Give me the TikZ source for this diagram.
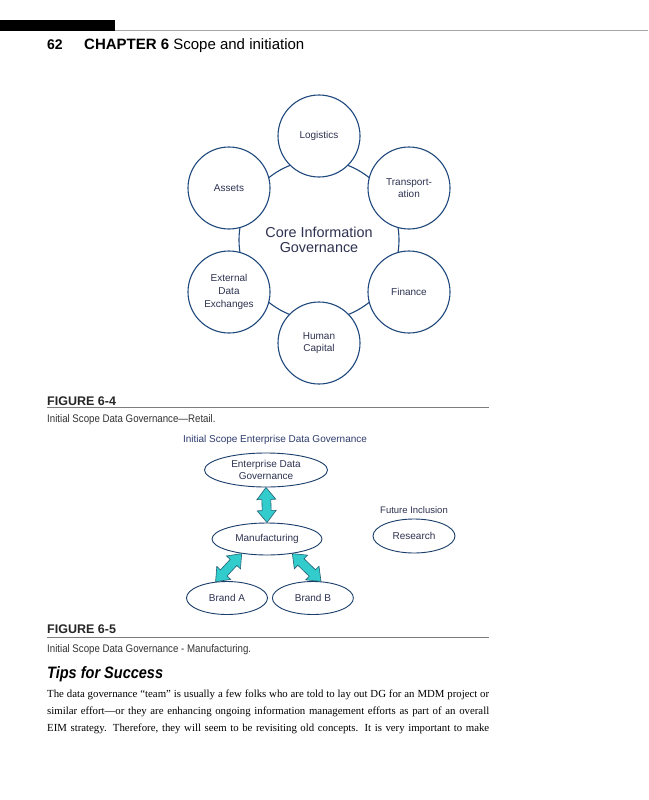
\documentclass[tikz,border=0pt]{standalone}
\usepackage{fontspec}
\setmainfont{Liberation Serif}
\setsansfont{Liberation Sans}
\newfontfamily\condfont[FakeStretch=0.88]{Liberation Sans}
\usepackage{tikz}
\usetikzlibrary{
	arrows.meta,
	calc,
	shapes.geometric,
	positioning
}
\definecolor{RingBlue}{RGB}{31,73,125}
\definecolor{LabelInk}{RGB}{45,50,80}
\definecolor{TitleInk}{RGB}{47,60,110}
\definecolor{ArrowCyan}{RGB}{51,204,204}
\definecolor{ArrowEdge}{RGB}{35,95,115}
\definecolor{RuleGray}{RGB}{125,125,125}

\tikzset{
	scopecircle/.style={circle, draw=RingBlue, line width=1.1pt, fill=white,
		minimum size=82pt, inner sep=0pt, align=center, text=LabelInk,
		font=\sffamily\fontsize{10}{12.7}\selectfont},
	unitellipse/.style={ellipse, draw=RingBlue!85!black, line width=0.9pt, fill=white,
		inner sep=0pt, align=center, text=LabelInk,
		font=\sffamily\fontsize{10}{11.5}\selectfont},
	fatarrow/.style={draw=ArrowEdge, fill=ArrowCyan, line width=0.6pt, line join=miter},
	figlabel/.style={anchor=base west, inner sep=0pt, text=black!85,
		font=\sffamily\bfseries\fontsize{12.5}{14}\selectfont},
	figcaption/.style={anchor=base west, inner sep=0pt, text=black!80,
		font=\condfont\fontsize{11}{13}\selectfont},
	bodyline/.style={anchor=base west, inner sep=0pt,
		font=\rmfamily\fontsize{10.8}{17}\selectfont},
	figrule/.style={RuleGray, line width=0.8pt}
}

% fat two-headed arrow from #1 to #2
\newcommand\linkarrow[2]{%
	\draw[fatarrow] (#1)
		-- ($(#1)!12pt!(#2)!9.5pt!90:(#2)$) -- ($(#1)!12pt!(#2)!4.5pt!90:(#2)$)
		-- ($(#2)!12pt!(#1)!4.5pt!-90:(#1)$) -- ($(#2)!12pt!(#1)!9.5pt!-90:(#1)$)
		-- (#2)
		-- ($(#2)!12pt!(#1)!9.5pt!90:(#1)$) -- ($(#2)!12pt!(#1)!4.5pt!90:(#1)$)
		-- ($(#1)!12pt!(#2)!4.5pt!-90:(#2)$) -- ($(#1)!12pt!(#2)!9.5pt!-90:(#2)$)
		-- cycle;}

\begin{document}
\begin{tikzpicture}[x=1pt, y=-1pt]
	\fill[white] (0,0) rectangle (648,800);
	\useasboundingbox (0,0) rectangle (648,800);
	% running head
	\fill[black] (0,20) rectangle (115,31);
	\draw[black!35, line width=1.2pt] (115,30.4) -- (648,30.4);
	\node[anchor=base west, inner sep=0pt, font=\sffamily\bfseries\fontsize{14}{16}\selectfont] (pagenum) at (47,49) {62};
	\node[anchor=base west, inner sep=0pt, font=\sffamily\fontsize{15}{16}\selectfont] (runhead) at (84,49) {\textbf{CHAPTER 6} Scope and initiation};

	% Figure 6-4: core ring
	\node[align=center, text=LabelInk, font=\sffamily\fontsize{14.4}{15.5}\selectfont] (core) at (319,240) {Core Information\\Governance};
	\draw[RingBlue, line width=1.1pt] (core.center) circle[radius=80];
	\node[scopecircle] (logistics) at (319,136) {Logistics};
	\node[scopecircle] (transport) at (409,188) {Transport-\\ation};
	\node[scopecircle] (finance) at (409,292) {Finance};
	\node[scopecircle] (human) at (319,343) {Human\\Capital};
	\node[scopecircle] (external) at (229,292) {External\\Data\\Exchanges};
	\node[scopecircle] (assets) at (229,188) {Assets};

	\node[figlabel] (figfour) at (47,405) {FIGURE 6-4};
	\draw[figrule] (47,407.5) -- (489,407.5);
	\node[figcaption] (figfourcap) at (47,422) {Initial Scope Data Governance—Retail.};

	% Figure 6-5: manufacturing scope
	\node[text=TitleInk, font=\sffamily\fontsize{10}{12}\selectfont] (fivetitle) at (275,440) {Initial Scope Enterprise Data Governance};
	\node[unitellipse, minimum width=123pt, minimum height=34pt] (edg) at (266,470) {Enterprise Data\\Governance};
	\node[unitellipse, minimum width=110pt, minimum height=32pt] (mfg) at (267,539) {Manufacturing};
	\node[unitellipse, minimum width=81pt, minimum height=33pt] (branda) at (227,598) {Brand A};
	\node[unitellipse, minimum width=81pt, minimum height=33pt, right=4pt of branda] (brandb) {Brand B};
	\node[unitellipse, minimum width=82pt, minimum height=34pt] (research) at (414,536) {Research};
	\node[above=1pt of research, text=LabelInk, font=\sffamily\fontsize{9.5}{11}\selectfont] (future) {Future Inclusion};
	\linkarrow{edg.south}{mfg.north}
	\linkarrow{mfg.210}{branda.125}
	\linkarrow{mfg.-30}{brandb.64}

	\node[figlabel] (figfive) at (47,633.5) {FIGURE 6-5};
	\draw[figrule] (47,637) -- (489,637);
	\node[figcaption] (figfivecap) at (47,652) {Initial Scope Data Governance - Manufacturing.};

	% Tips for Success
	\node[anchor=base west, inner sep=0pt, font=\condfont\bfseries\itshape\fontsize{16.5}{18}\selectfont] (tips) at (47,678) {Tips for Success};
	\node[bodyline] (lineone) at (47,697) {\makebox[442pt][s]{The data governance “team” is usually a few folks who are told to lay out DG for an MDM project or}};
	\node[bodyline] (linetwo) at (47,714) {\makebox[442pt][s]{similar effort—or they are enhancing ongoing information management efforts as part of an overall}};
	\node[bodyline] (linethree) at (47,731) {\makebox[442pt][s]{EIM strategy. Therefore, they will seem to be revisiting old concepts. It is very important to make}};
\end{tikzpicture}
\end{document}
